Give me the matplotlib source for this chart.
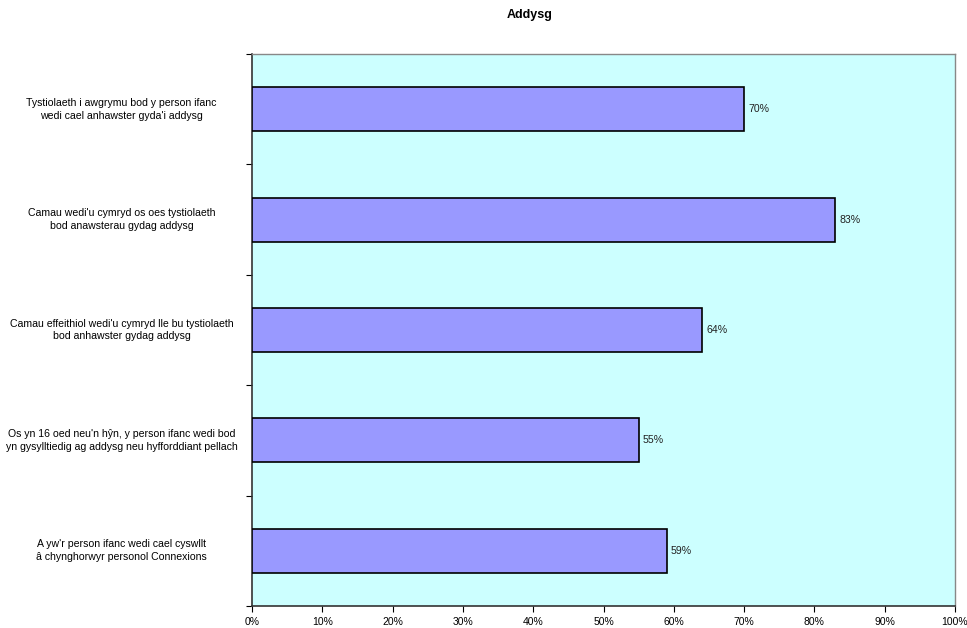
import numpy as np
import matplotlib.pyplot as plt
from matplotlib.ticker import FixedLocator, PercentFormatter

plt.rcParams['font.family'] = ['Liberation Sans', 'DejaVu Sans']

# categories from top to bottom
categories = [
    "Tystiolaeth i awgrymu bod y person ifanc\nwedi cael anhawster gyda'i addysg",
    "Camau wedi'u cymryd os oes tystiolaeth\nbod anawsterau gydag addysg",
    "Camau effeithiol wedi'u cymryd lle bu tystiolaeth\nbod anhawster gydag addysg",
    "Os yn 16 oed neu'n hŷn, y person ifanc wedi bod\nyn gysylltiedig ag addysg neu hyfforddiant pellach",
    "A yw'r person ifanc wedi cael cyswllt\nâ chynghorwyr personol Connexions",
]
values = [70, 83, 64, 55, 59]
x_ticks = [0, 10, 20, 30, 40, 50, 60, 70, 80, 90, 100]

fig = plt.figure(figsize=(9.67, 6.28), dpi=100)
ax = fig.add_axes([252/967, 1 - 606/628, (955-252)/967, (606-54)/628])
ax.set_facecolor('#CCFFFF')

n = len(categories)
ypos = np.arange(n)[::-1]
ax.barh(ypos, values, height=0.4, color='#9999FF', edgecolor='black', linewidth=1.2, zorder=3)

for y, v in zip(ypos, values):
    ax.text(v + 0.6, y, f"{v}%", va='center', ha='left', fontsize=7.6, color='#222222')

ax.set_xlim(0, 100)
ax.set_ylim(-0.5, n - 0.5)
ax.set_xticks(x_ticks)
ax.xaxis.set_major_formatter(PercentFormatter(decimals=0))
ax.tick_params(axis='x', labelsize=7.5, length=4, width=0.8, pad=4)

ax.set_yticks(ypos)
ax.set_yticklabels(categories, fontsize=7.6, ha='center', multialignment='center',
                   linespacing=1.35, va='center')
ax.tick_params(axis='y', which='major', length=0, pad=94)
ax.yaxis.set_minor_locator(FixedLocator(np.arange(-0.5, n, 1.0)))
ax.tick_params(axis='y', which='minor', length=4, width=0.8)

for s in ['top', 'right']:
    ax.spines[s].set_color('#888888')
    ax.spines[s].set_linewidth(1.0)
for s in ['left', 'bottom']:
    ax.spines[s].set_color('#333333')
    ax.spines[s].set_linewidth(1.2)

fig.text(530 / 967, 1 - 15/628, "Addysg", ha='center', va='center',
         fontsize=9, fontweight='bold')

fig.savefig('out.png', dpi=100)
